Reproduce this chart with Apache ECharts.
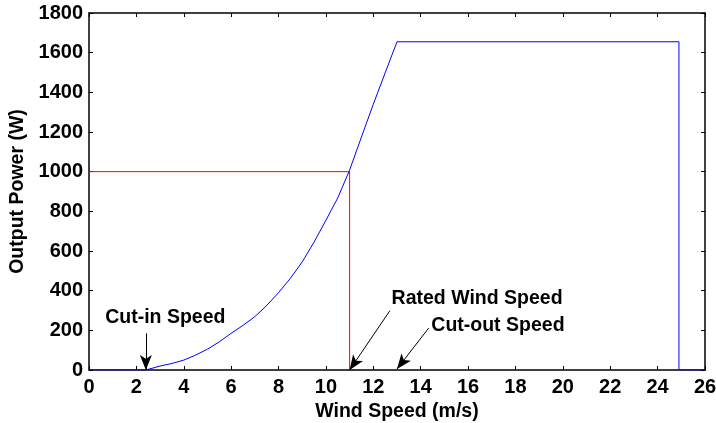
<!DOCTYPE html>
<html lang="en">
<head>
<meta charset="UTF-8">
<title>Wind turbine power curve</title>
<script src="https://cdn.jsdelivr.net/npm/echarts@6/dist/echarts.min.js"></script>
<style>
  html, body { margin: 0; padding: 0; background: #fff; }
  #chart { width: 716px; height: 423px; }
</style>
</head>
<body>
<div id="chart"></div>
<script>
// power curve
var windSpeed   = [0, 2.4, 2.4, 3, 3.5, 4, 4.5, 5, 5.5, 6, 6.5, 7, 7.5, 8, 8.5, 9, 9.5, 10, 10.5, 11, 11.5, 12, 12.5, 13, 24.9, 24.9, 26];
var outputPower = [0, 0, 8, 20, 33, 50, 75, 105, 142, 185, 225, 269, 325, 390, 462, 545, 645, 755, 868, 1008, 1175, 1340, 1498, 1655, 1655, 0, 0];

// rated-power guide (red)
var ratedX = [0, 11, 11];
var ratedY = [1000, 1000, 0];

// annotations: text and arrows, in data units
var noteText = ['Cut-in Speed', 'Rated Wind Speed', 'Cut-out Speed'];
var noteX    = [3.22, 16.38, 17.26];
var noteY    = [263, 362, 225];
var arrowFromX = [2.4, 12.7, 14.34];
var arrowFromY = [185, 299, 212];
var arrowToX   = [2.4, 11, 13];
var arrowToY   = [0, 0, 5];

var font = 'Liberation Sans, Arial, sans-serif';

var chart = echarts.init(document.getElementById('chart'), null, { renderer: 'canvas' });

var curve = windSpeed.map(function (v, i) { return [v, outputPower[i]]; });
var rated = ratedX.map(function (v, i) { return [v, ratedY[i]]; });

var arrows = arrowFromX.map(function (x, i) {
  return [{ coord: [x, arrowFromY[i]] }, { coord: [arrowToX[i], arrowToY[i]] }];
});
var notes = noteText.map(function (t, i) {
  return { name: t, coord: [noteX[i], noteY[i]] };
});

var tickStyle = { show: true, inside: true, length: 4, lineStyle: { color: '#000', width: 1 } };
var plain = function (v) { return String(v); };

chart.setOption({
  animation: false,
  grid: { left: 89, right: 11, top: 13, bottom: 53, show: false, containLabel: false, outerBoundsMode: 'none' },
  xAxis: [{
    type: 'value', min: 0, max: 26, interval: 2,
    name: 'Wind Speed (m/s)', nameLocation: 'middle', nameGap: 28,
    nameTextStyle: { color: '#000', fontFamily: font, fontWeight: 'bold', fontSize: 19.5 },
    axisLine: { show: true, onZero: false, lineStyle: { color: '#000', width: 1.5 } },
    axisTick: tickStyle,
    axisLabel: { color: '#000', fontFamily: font, fontWeight: 'bold', fontSize: 20, margin: 7, formatter: plain },
    splitLine: { show: false }
  }, {
    type: 'value', min: 0, max: 26, interval: 2, position: 'top',
    axisLine: { show: true, onZero: false, lineStyle: { color: '#000', width: 1.5 } },
    axisTick: tickStyle, axisLabel: { show: false }, splitLine: { show: false }
  }],
  yAxis: [{
    type: 'value', min: 0, max: 1800, interval: 200,
    name: 'Output Power (W)', nameLocation: 'middle', nameGap: 60,
    nameTextStyle: { color: '#000', fontFamily: font, fontWeight: 'bold', fontSize: 19.5 },
    axisLine: { show: true, onZero: false, lineStyle: { color: '#000', width: 1.5 } },
    axisTick: tickStyle,
    axisLabel: { color: '#000', fontFamily: font, fontWeight: 'bold', fontSize: 20, margin: 6, formatter: plain },
    splitLine: { show: false }
  }, {
    type: 'value', min: 0, max: 1800, interval: 200, position: 'right',
    axisLine: { show: true, onZero: false, lineStyle: { color: '#000', width: 1.5 } },
    axisTick: tickStyle, axisLabel: { show: false }, splitLine: { show: false }
  }],
  series: [
    {
      name: 'rated', type: 'line', data: rated, symbol: 'none',
      lineStyle: { color: '#ff0000', width: 1 }, z: 2
    },
    {
      name: 'power', type: 'line', data: curve, symbol: 'none',
      lineStyle: { color: '#0000ff', width: 1 }, z: 3,
      markLine: {
        silent: true, symbol: ['none', 'arrow'], symbolSize: [9, 15],
        lineStyle: { color: '#000', width: 1, type: 'solid' },
        label: { show: false },
        data: arrows
      },
      markPoint: {
        silent: true, symbol: 'circle', symbolSize: 0,
        label: {
          show: true, position: 'inside', formatter: '{b}',
          color: '#000', fontFamily: font, fontWeight: 'bold', fontSize: 19.5
        },
        data: notes
      }
    }
  ]
});
</script>
</body>
</html>
